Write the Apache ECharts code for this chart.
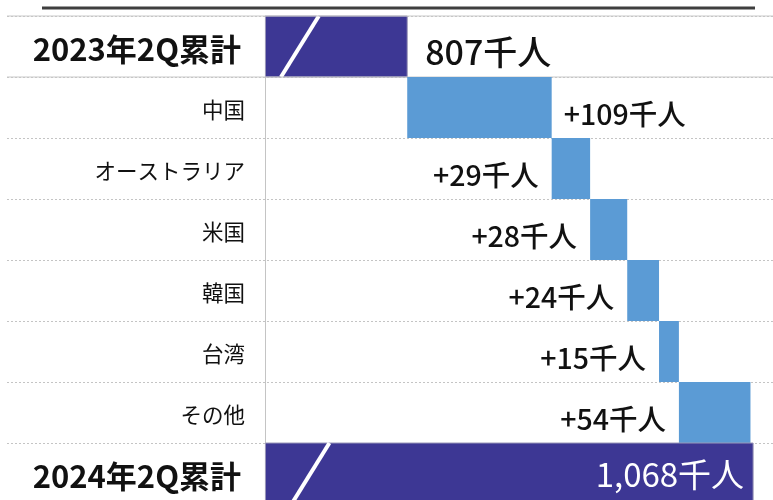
<!DOCTYPE html>
<html>
<head>
<meta charset="utf-8">
<script src="https://cdn.jsdelivr.net/npm/echarts@6/dist/echarts.min.js"></script>
<style>
  html, body { margin: 0; padding: 0; background: #fff; }
  #chart { width: 773px; height: 500px; }
</style>
</head>
<body>
<div id="chart"></div>
<script>
const categories = ['2023年2Q累計', '中国', 'オーストラリア', '米国', '韓国', '台湾', 'その他', '2024年2Q累計'];
const startTotal = 807;
const endTotal = 1068;
const increments = [109, 29, 28, 24, 15, 54];
// where the broken axis starts, and where the break slash sits on each total bar
const axisBreakBase = 700;
const breakValues = [726, 734];

const DARK = '#3d3794';
const LIGHT = '#5b9bd5';
const FONT = '"Noto Sans CJK JP", "Noto Sans", sans-serif';

function buildRows() {
  const rows = [[0, axisBreakBase, startTotal, 0, 0]];
  let running = startTotal;
  increments.forEach((d, i) => {
    rows.push([i + 1, running, running + d, 1, d]);
    running += d;
  });
  rows.push([categories.length - 1, axisBreakBase, endTotal, 0, 1]);
  return rows;
}

function renderItem(params, api) {
  const row = api.value(0);
  const from = api.value(1);
  const to = api.value(2);
  const kind = api.value(3);
  const extra = api.value(4);
  const cs = params.coordSys;
  const p0 = api.coord([from, row]);
  const p1 = api.coord([to, row]);
  const h = api.size([0, 1])[1];
  const top = p0[1] - h / 2;
  const children = [];

  children.push({
    type: 'rect',
    shape: { x: p0[0], y: top, width: p1[0] - p0[0], height: h },
    style: { fill: kind === 0 ? DARK : LIGHT, stroke: kind === 0 ? '#9a98b8' : null, lineWidth: kind === 0 ? 1 : 0 }
  });

  if (kind === 0) {
    // break slash
    const bx = api.coord([breakValues[extra], row])[0];
    const dx = h * 0.31;
    children.push({
      type: 'line',
      shape: { x1: bx + dx, y1: top, x2: bx - dx, y2: top + h },
      style: { stroke: '#fff', lineWidth: 4 }
    });
    if (extra === 0) {
      children.push({
        type: 'text',
        style: {
          x: p1[0] + 18, y: p0[1] + 6,
          text: startTotal.toLocaleString('en-US') + '千人',
          fill: '#111', font: '500 34px ' + FONT,
          align: 'left', verticalAlign: 'middle'
        }
      });
      [top, top + h].forEach(y => {
        children.push({
          type: 'line',
          shape: { x1: cs.x, y1: y, x2: cs.x + cs.width, y2: y },
          style: { stroke: '#c8c8c8', lineWidth: 1 }
        });
      });
    } else {
      children.push({
        type: 'text',
        style: {
          x: p1[0] - 9, y: p0[1] + 1,
          text: endTotal.toLocaleString('en-US') + '千人',
          fill: '#fff', font: '400 33px ' + FONT,
          align: 'right', verticalAlign: 'middle'
        }
      });
    }
  } else {
    const onRight = row === 1;
    children.push({
      type: 'text',
      style: {
        x: onRight ? p1[0] + 12 : p0[0] - 13,
        y: p0[1] + 7,
        text: '+' + extra + '千人',
        fill: '#111', font: '500 28.5px ' + FONT,
        align: onRight ? 'left' : 'right', verticalAlign: 'middle'
      }
    });
  }

  return { type: 'group', children };
}

const chart = echarts.init(document.getElementById('chart'));

chart.setOption({
  backgroundColor: '#fff',
  animation: false,
  textStyle: { fontFamily: FONT },
  graphic: [
    {
      type: 'line',
      shape: { x1: 42, y1: 8, x2: 755, y2: 8 },
      style: { stroke: '#3f3f3f', lineWidth: 3 }
    }
  ],
  grid: { left: 7, right: 0, top: 16, height: 488, outerBoundsMode: 'none' },
  xAxis: {
    type: 'value',
    min: 505,
    max: 1083,
    show: false
  },
  yAxis: {
    type: 'category',
    inverse: true,
    data: categories,
    offset: -258,
    axisLine: { show: true, lineStyle: { color: '#c4c4c4', width: 1 } },
    axisTick: { show: false },
    axisLabel: {
      interval: 0,
      margin: 20,
      color: '#111',
      fontFamily: FONT,
      padding: [5, 0, 0, 0],
      formatter: (v, i) => (i === 0 || i === categories.length - 1) ? '{total|' + v + '}' : '{item|' + v + '}',
      rich: {
        total: { fontSize: 31, fontWeight: 'bold', color: '#111', fontFamily: FONT, padding: [0, 4, 0, 0] },
        item: { fontSize: 21.5, color: '#111', fontFamily: FONT }
      }
    },
    splitLine: {
      show: true,
      interval: 0,
      lineStyle: { color: '#c4c4c4', type: [2, 2], width: 1 }
    }
  },
  series: [
    {
      type: 'custom',
      renderItem,
      encode: { x: [1, 2], y: 0 },
      data: buildRows()
    }
  ]
});
</script>
</body>
</html>
